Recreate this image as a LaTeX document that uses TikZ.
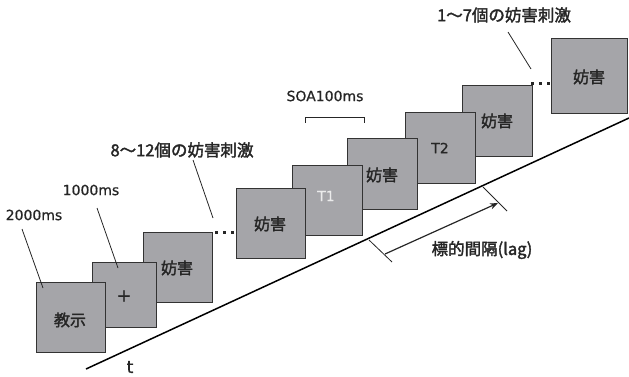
\documentclass[tikz,border=0pt]{standalone}
\usepackage{fontspec}
\setmainfont{DejaVu Sans}[FakeBold=0.8]
\newfontfamily\jpfont{Noto Sans CJK JP}[FakeBold=2]
\usetikzlibrary{arrows.meta}
\definecolor{boxfill}{HTML}{A5A5A9}
\definecolor{boxedge}{HTML}{333333}
\tikzset{
  stim/.style={draw=boxedge, line width=1pt, fill=boxfill},
  boxtxt/.style={font=\fontsize{16}{16}\selectfont\jpfont, text=black!85},
  lbl/.style={font=\fontsize{14}{14}\selectfont, text=black!85, inner sep=0pt},
  jplbl/.style={font=\fontsize{16.5}{16.5}\selectfont\jpfont, text=black!85, inner sep=0pt},
  leader/.style={draw=black!85, line width=0.8pt},
  dotmark/.style={fill=black!85, rectangle, inner sep=0pt, minimum size=3pt},
}
\begin{document}
\begin{tikzpicture}[x=1pt,y=-1pt]
\useasboundingbox (0,0) rectangle (629,377);
% boxes drawn back to front
\draw[stim] (551,39) rectangle (627,114);
\node[boxtxt] (b9) at (589,77) {妨害};
\draw[stim] (462,86) rectangle (532,156);
\node[boxtxt] (b8) at (497,121) {妨害};
\draw[stim] (405,113) rectangle (475,183);
\node[font=\fontsize{14}{14}\selectfont, text=black!85] (b7) at (440,148) {T2};
\draw[stim] (347,139) rectangle (417,209);
\node[boxtxt] (b6) at (382,175) {妨害};
\draw[stim] (292,165) rectangle (362,235);
\node[font=\fontsize{14}{14}\selectfont, text=white!92!black] (b5) at (326,196) {T1};
\draw[stim] (236,188) rectangle (305,258);
\node[boxtxt] (b4) at (270,224) {妨害};
\draw[stim] (143,232) rectangle (212,302);
\node[boxtxt] (b3) at (177,268) {妨害};
\draw[stim] (92,262) rectangle (156,327);
\node[font=\fontsize{18}{18}\selectfont, text=black!85] (b2) at (124,296) {+};
\draw[stim] (36,282) rectangle (105,352);
\node[boxtxt] (b1) at (70,320) {教示};
% dots
\foreach \x in {216,224,232} \node[dotmark] at (\x,232) {};
\foreach \x in {532,540,548} \node[dotmark] at (\x,84) {};
% time axis
\coordinate (t0) at (86,369);
\coordinate (t1) at (629,118);
\draw[line width=1.5pt] (t0) -- (t1);
\node[lbl, font=\fontsize{17}{17}\selectfont] (tl) at (130,367) {t};
% labels
\node[lbl] (l2000) at (34,215) {2000ms};
\coordinate (p2000a) at (22,229);
\coordinate (p2000b) at (43,288);
\draw[leader] (p2000a) -- (p2000b);
\node[lbl] (l1000) at (91,190) {1000ms};
\coordinate (p1000a) at (97,208);
\coordinate (p1000b) at (118,268);
\draw[leader] (p1000a) -- (p1000b);
\node[jplbl] (l812) at (182,150) {8～12個の妨害刺激};
\coordinate (p812a) at (193,160);
\coordinate (p812b) at (213,218);
\draw[leader] (p812a) -- (p812b);
\node[lbl] (lsoa) at (325,96) {SOA100ms};
\coordinate (s1) at (305,123);
\coordinate (s2) at (364,123);
\draw[leader] (s1) -- ++(0,-6) -| (s2);
\node[jplbl] (l17) at (504,15) {1～7個の妨害刺激};
\coordinate (p17a) at (508,32);
\coordinate (p17b) at (531,69);
\draw[leader] (p17a) -- (p17b);
% lag
\coordinate (k1a) at (369,240);
\coordinate (k1b) at (392,262);
\coordinate (k2a) at (483,187);
\coordinate (k2b) at (507,211);
\draw[leader] (k1a) -- (k1b);
\draw[leader] (k2a) -- (k2b);
\coordinate (a1) at (385,254);
\coordinate (a2) at (498,203);
\draw[leader, line width=1.2pt, -{Stealth[length=8pt,width=6pt]}] (a1) -- (a2);
\node[jplbl] (llag) at (482,250) {標的間隔(lag)};
\end{tikzpicture}
\end{document}
